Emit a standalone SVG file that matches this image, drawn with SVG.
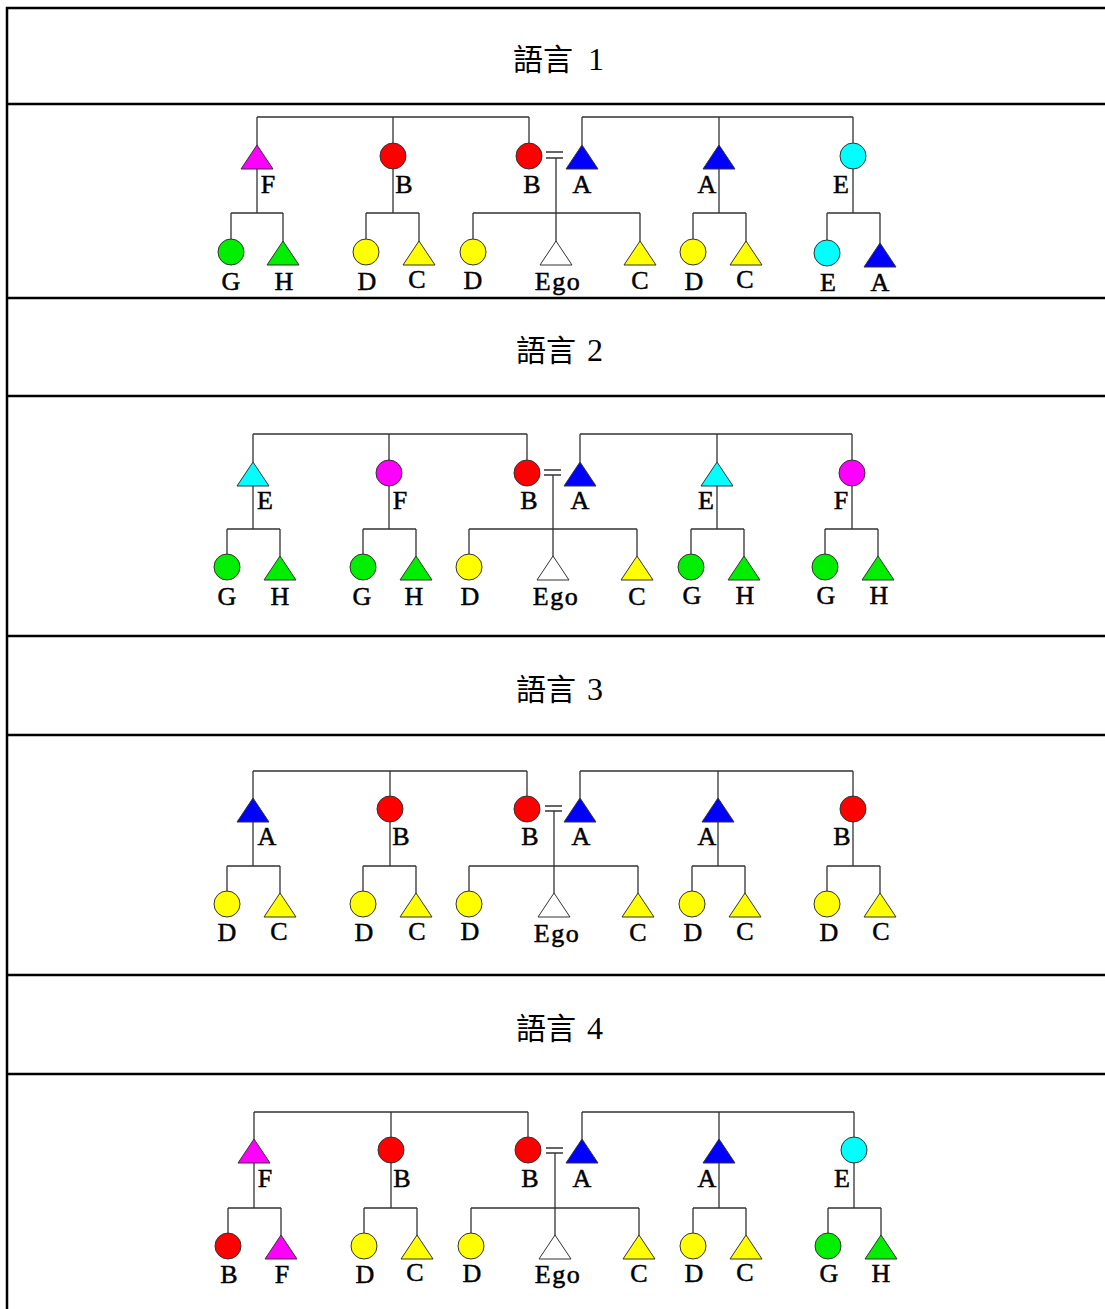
<svg xmlns="http://www.w3.org/2000/svg" xmlns:xlink="http://www.w3.org/1999/xlink" width="1105" height="1309" viewBox="0 0 1105 1309">
<style>
.frame{stroke:#000;stroke-width:2.5;fill:none}
.ln{stroke:#333;stroke-width:1.3;fill:none}
.shp{stroke:#333;stroke-width:1}
.m{fill:#ff00ff}.r{fill:#ff0000}.b{fill:#0000ff}.c{fill:#00ffff}.g{fill:#00ee00}.y{fill:#ffff00}.w{fill:#ffffff}
.lbl{font-family:"Liberation Serif","Times New Roman",serif;font-size:26px;text-anchor:middle;fill:#000;stroke:#000;stroke-width:0.5}
.ego{letter-spacing:1.5px}
.title{font-family:"Liberation Serif","Noto Sans CJK TC",serif;font-size:30px;fill:#000}
.num{font-family:"Liberation Serif","Times New Roman",serif;font-size:32px}
</style>
<defs>
<path id="tri" d="M0,-12 L16,12 L-16,12 Z"/>
<circle id="cir" cx="0" cy="0" r="13"/>
</defs>
<rect x="0" y="0" width="1105" height="1309" fill="#fff"/>
<g id="table">
<path class="frame" d="M7,7 V1309 M6,8 H1105 M6,104 H1105 M6,298 H1105 M6,396 H1105 M6,636 H1105 M6,735 H1105 M6,975 H1105 M6,1074 H1105"/>
<text class="title" x="513" y="70" xml:space="preserve">語言  <tspan class="num">1</tspan></text>
<text class="title" x="516" y="361" xml:space="preserve">語言 <tspan class="num" x="587">2</tspan></text>
<text class="title" x="516" y="700" xml:space="preserve">語言 <tspan class="num" x="587">3</tspan></text>
<text class="title" x="516" y="1039" xml:space="preserve">語言 <tspan class="num" x="587">4</tspan></text>
</g>

<!-- Panel 1 -->
<g id="p1-connectors">
<path class="ln" d="M257,117 H529 M582,117 H853 M257,117 V213 M393,117 V213 M529,117 V143 M582,117 V145 M719,117 V213 M853,117 V213
M231,213 H283 M366,213 H419 M473,213 H640 M693,213 H746 M827,213 H880
M231,213 V252 M283,213 V253 M366,213 V252 M419,213 V253 M473,213 V252 M640,213 V253 M693,213 V252 M746,213 V253 M827,213 V252 M880,213 V253
M556,158 V253 M546,152 H563 M546,158 H563"/>
</g>
<g id="p1-F"><use xlink:href="#tri" x="257" y="157" class="shp m"/><text class="lbl" x="268" y="193">F</text></g>
<g id="p1-B1"><use xlink:href="#cir" x="393" y="156" class="shp r"/><text class="lbl" x="404" y="193">B</text></g>
<g id="p1-B2"><use xlink:href="#cir" x="529" y="156" class="shp r"/><text class="lbl" x="532" y="193">B</text></g>
<g id="p1-A1"><use xlink:href="#tri" x="582" y="157" class="shp b"/><text class="lbl" x="582" y="193">A</text></g>
<g id="p1-A2"><use xlink:href="#tri" x="719" y="157" class="shp b"/><text class="lbl" x="707" y="193">A</text></g>
<g id="p1-E"><use xlink:href="#cir" x="853" y="156" class="shp c"/><text class="lbl" x="841" y="193">E</text></g>
<g id="p1-G"><use xlink:href="#cir" x="231" y="252" class="shp g"/><text class="lbl" x="231" y="290">G</text></g>
<g id="p1-H"><use xlink:href="#tri" x="283" y="253" class="shp g"/><text class="lbl" x="284" y="290">H</text></g>
<g id="p1-D1"><use xlink:href="#cir" x="366" y="252" class="shp y"/><text class="lbl" x="367" y="290">D</text></g>
<g id="p1-C1"><use xlink:href="#tri" x="419" y="253" class="shp y"/><text class="lbl" x="417" y="288">C</text></g>
<g id="p1-D2"><use xlink:href="#cir" x="473" y="252" class="shp y"/><text class="lbl" x="473" y="289">D</text></g>
<g id="p1-Ego"><use xlink:href="#tri" x="556" y="253" class="shp w"/><text class="lbl ego" x="558" y="290">Ego</text></g>
<g id="p1-C2"><use xlink:href="#tri" x="640" y="253" class="shp y"/><text class="lbl" x="640" y="289">C</text></g>
<g id="p1-D3"><use xlink:href="#cir" x="693" y="252" class="shp y"/><text class="lbl" x="694" y="290">D</text></g>
<g id="p1-C3"><use xlink:href="#tri" x="746" y="253" class="shp y"/><text class="lbl" x="745" y="288">C</text></g>
<g id="p1-E2"><use xlink:href="#cir" x="827" y="253" class="shp c"/><text class="lbl" x="828" y="291">E</text></g>
<g id="p1-A3"><use xlink:href="#tri" x="880" y="255" class="shp b"/><text class="lbl" x="880" y="291">A</text></g>

<!-- Panel 2 -->
<g id="p2-connectors">
<path class="ln" d="M253,434 H527 M580,434 H852 M253,434 V529 M389,434 V529 M527,434 V460 M580,434 V462 M717,434 V529 M852,434 V529
M227,529 H280 M363,529 H416 M469,529 H637 M691,529 H744 M825,529 H878
M227,529 V567 M280,529 V568 M363,529 V567 M416,529 V568 M469,529 V567 M637,529 V568 M691,529 V567 M744,529 V568 M825,529 V567 M878,529 V568
M553,475 V568 M544,470 H561 M544,475 H561"/>
</g>
<g id="p2-E1"><use xlink:href="#tri" x="253" y="474" class="shp c"/><text class="lbl" x="265" y="509">E</text></g>
<g id="p2-F1"><use xlink:href="#cir" x="389" y="473" class="shp m"/><text class="lbl" x="400" y="509">F</text></g>
<g id="p2-B"><use xlink:href="#cir" x="527" y="473" class="shp r"/><text class="lbl" x="529" y="509">B</text></g>
<g id="p2-A"><use xlink:href="#tri" x="580" y="474" class="shp b"/><text class="lbl" x="580" y="509">A</text></g>
<g id="p2-E2"><use xlink:href="#tri" x="717" y="474" class="shp c"/><text class="lbl" x="706" y="509">E</text></g>
<g id="p2-F2"><use xlink:href="#cir" x="852" y="473" class="shp m"/><text class="lbl" x="841" y="509">F</text></g>
<g id="p2-G1"><use xlink:href="#cir" x="227" y="567" class="shp g"/><text class="lbl" x="227" y="605">G</text></g>
<g id="p2-H1"><use xlink:href="#tri" x="280" y="568" class="shp g"/><text class="lbl" x="280" y="605">H</text></g>
<g id="p2-G2"><use xlink:href="#cir" x="363" y="567" class="shp g"/><text class="lbl" x="362" y="605">G</text></g>
<g id="p2-H2"><use xlink:href="#tri" x="416" y="568" class="shp g"/><text class="lbl" x="414" y="605">H</text></g>
<g id="p2-D"><use xlink:href="#cir" x="469" y="567" class="shp y"/><text class="lbl" x="470" y="605">D</text></g>
<g id="p2-Ego"><use xlink:href="#tri" x="553" y="568" class="shp w"/><text class="lbl ego" x="556" y="605">Ego</text></g>
<g id="p2-C"><use xlink:href="#tri" x="637" y="568" class="shp y"/><text class="lbl" x="637" y="605">C</text></g>
<g id="p2-G3"><use xlink:href="#cir" x="691" y="567" class="shp g"/><text class="lbl" x="692" y="604">G</text></g>
<g id="p2-H3"><use xlink:href="#tri" x="744" y="568" class="shp g"/><text class="lbl" x="745" y="604">H</text></g>
<g id="p2-G4"><use xlink:href="#cir" x="825" y="567" class="shp g"/><text class="lbl" x="826" y="604">G</text></g>
<g id="p2-H4"><use xlink:href="#tri" x="878" y="568" class="shp g"/><text class="lbl" x="879" y="604">H</text></g>

<!-- Panel 3 -->
<g id="p3-connectors">
<path class="ln" d="M253,771 H527 M580,771 H853 M253,771 V866 M390,771 V866 M527,771 V796 M580,771 V798 M718,771 V866 M853,771 V866
M227,866 H280 M363,866 H416 M469,866 H638 M692,866 H745 M827,866 H880
M227,866 V904 M280,866 V905 M363,866 V904 M416,866 V905 M469,866 V904 M638,866 V905 M692,866 V904 M745,866 V905 M827,866 V904 M880,866 V905
M554,811 V905 M545,806 H562 M545,811 H562"/>
</g>
<g id="p3-A1"><use xlink:href="#tri" x="253" y="810" class="shp b"/><text class="lbl" x="267" y="845">A</text></g>
<g id="p3-B1"><use xlink:href="#cir" x="390" y="809" class="shp r"/><text class="lbl" x="401" y="845">B</text></g>
<g id="p3-B2"><use xlink:href="#cir" x="527" y="809" class="shp r"/><text class="lbl" x="530" y="845">B</text></g>
<g id="p3-A2"><use xlink:href="#tri" x="580" y="810" class="shp b"/><text class="lbl" x="581" y="845">A</text></g>
<g id="p3-A3"><use xlink:href="#tri" x="718" y="810" class="shp b"/><text class="lbl" x="707" y="845">A</text></g>
<g id="p3-B3"><use xlink:href="#cir" x="853" y="809" class="shp r"/><text class="lbl" x="842" y="845">B</text></g>
<g id="p3-D1"><use xlink:href="#cir" x="227" y="904" class="shp y"/><text class="lbl" x="227" y="941">D</text></g>
<g id="p3-C1"><use xlink:href="#tri" x="280" y="905" class="shp y"/><text class="lbl" x="279" y="940">C</text></g>
<g id="p3-D2"><use xlink:href="#cir" x="363" y="904" class="shp y"/><text class="lbl" x="364" y="941">D</text></g>
<g id="p3-C2"><use xlink:href="#tri" x="416" y="905" class="shp y"/><text class="lbl" x="417" y="940">C</text></g>
<g id="p3-D3"><use xlink:href="#cir" x="469" y="904" class="shp y"/><text class="lbl" x="470" y="940">D</text></g>
<g id="p3-Ego"><use xlink:href="#tri" x="554" y="905" class="shp w"/><text class="lbl ego" x="557" y="942">Ego</text></g>
<g id="p3-C3"><use xlink:href="#tri" x="638" y="905" class="shp y"/><text class="lbl" x="638" y="941">C</text></g>
<g id="p3-D4"><use xlink:href="#cir" x="692" y="904" class="shp y"/><text class="lbl" x="693" y="941">D</text></g>
<g id="p3-C4"><use xlink:href="#tri" x="745" y="905" class="shp y"/><text class="lbl" x="745" y="940">C</text></g>
<g id="p3-D5"><use xlink:href="#cir" x="827" y="904" class="shp y"/><text class="lbl" x="829" y="941">D</text></g>
<g id="p3-C5"><use xlink:href="#tri" x="880" y="905" class="shp y"/><text class="lbl" x="881" y="940">C</text></g>

<!-- Panel 4 -->
<g id="p4-connectors">
<path class="ln" d="M254,1112 H528 M582,1112 H854 M254,1112 V1208 M391,1112 V1208 M528,1112 V1137 M582,1112 V1139 M719,1112 V1208 M854,1112 V1208
M228,1208 H281 M364,1208 H417 M471,1208 H639 M693,1208 H746 M828,1208 H881
M228,1208 V1246 M281,1208 V1247 M364,1208 V1246 M417,1208 V1247 M471,1208 V1246 M639,1208 V1247 M693,1208 V1246 M746,1208 V1247 M828,1208 V1246 M881,1208 V1247
M555,1153 V1247 M546,1148 H563 M546,1153 H563"/>
</g>
<g id="p4-F1"><use xlink:href="#tri" x="254" y="1151" class="shp m"/><text class="lbl" x="265" y="1187">F</text></g>
<g id="p4-B1"><use xlink:href="#cir" x="391" y="1150" class="shp r"/><text class="lbl" x="402" y="1187">B</text></g>
<g id="p4-B2"><use xlink:href="#cir" x="528" y="1150" class="shp r"/><text class="lbl" x="530" y="1187">B</text></g>
<g id="p4-A1"><use xlink:href="#tri" x="582" y="1151" class="shp b"/><text class="lbl" x="582" y="1187">A</text></g>
<g id="p4-A2"><use xlink:href="#tri" x="719" y="1151" class="shp b"/><text class="lbl" x="707" y="1187">A</text></g>
<g id="p4-E"><use xlink:href="#cir" x="854" y="1150" class="shp c"/><text class="lbl" x="842" y="1187">E</text></g>
<g id="p4-B3"><use xlink:href="#cir" x="228" y="1246" class="shp r"/><text class="lbl" x="229" y="1283">B</text></g>
<g id="p4-F2"><use xlink:href="#tri" x="281" y="1247" class="shp m"/><text class="lbl" x="282" y="1283">F</text></g>
<g id="p4-D1"><use xlink:href="#cir" x="364" y="1246" class="shp y"/><text class="lbl" x="365" y="1283">D</text></g>
<g id="p4-C1"><use xlink:href="#tri" x="417" y="1247" class="shp y"/><text class="lbl" x="415" y="1281">C</text></g>
<g id="p4-D2"><use xlink:href="#cir" x="471" y="1246" class="shp y"/><text class="lbl" x="472" y="1282">D</text></g>
<g id="p4-Ego"><use xlink:href="#tri" x="555" y="1247" class="shp w"/><text class="lbl ego" x="558" y="1283">Ego</text></g>
<g id="p4-C2"><use xlink:href="#tri" x="639" y="1247" class="shp y"/><text class="lbl" x="639" y="1282">C</text></g>
<g id="p4-D3"><use xlink:href="#cir" x="693" y="1246" class="shp y"/><text class="lbl" x="694" y="1282">D</text></g>
<g id="p4-C3"><use xlink:href="#tri" x="746" y="1247" class="shp y"/><text class="lbl" x="745" y="1281">C</text></g>
<g id="p4-G"><use xlink:href="#cir" x="828" y="1246" class="shp g"/><text class="lbl" x="829" y="1282">G</text></g>
<g id="p4-H"><use xlink:href="#tri" x="881" y="1247" class="shp g"/><text class="lbl" x="881" y="1282">H</text></g>
</svg>
